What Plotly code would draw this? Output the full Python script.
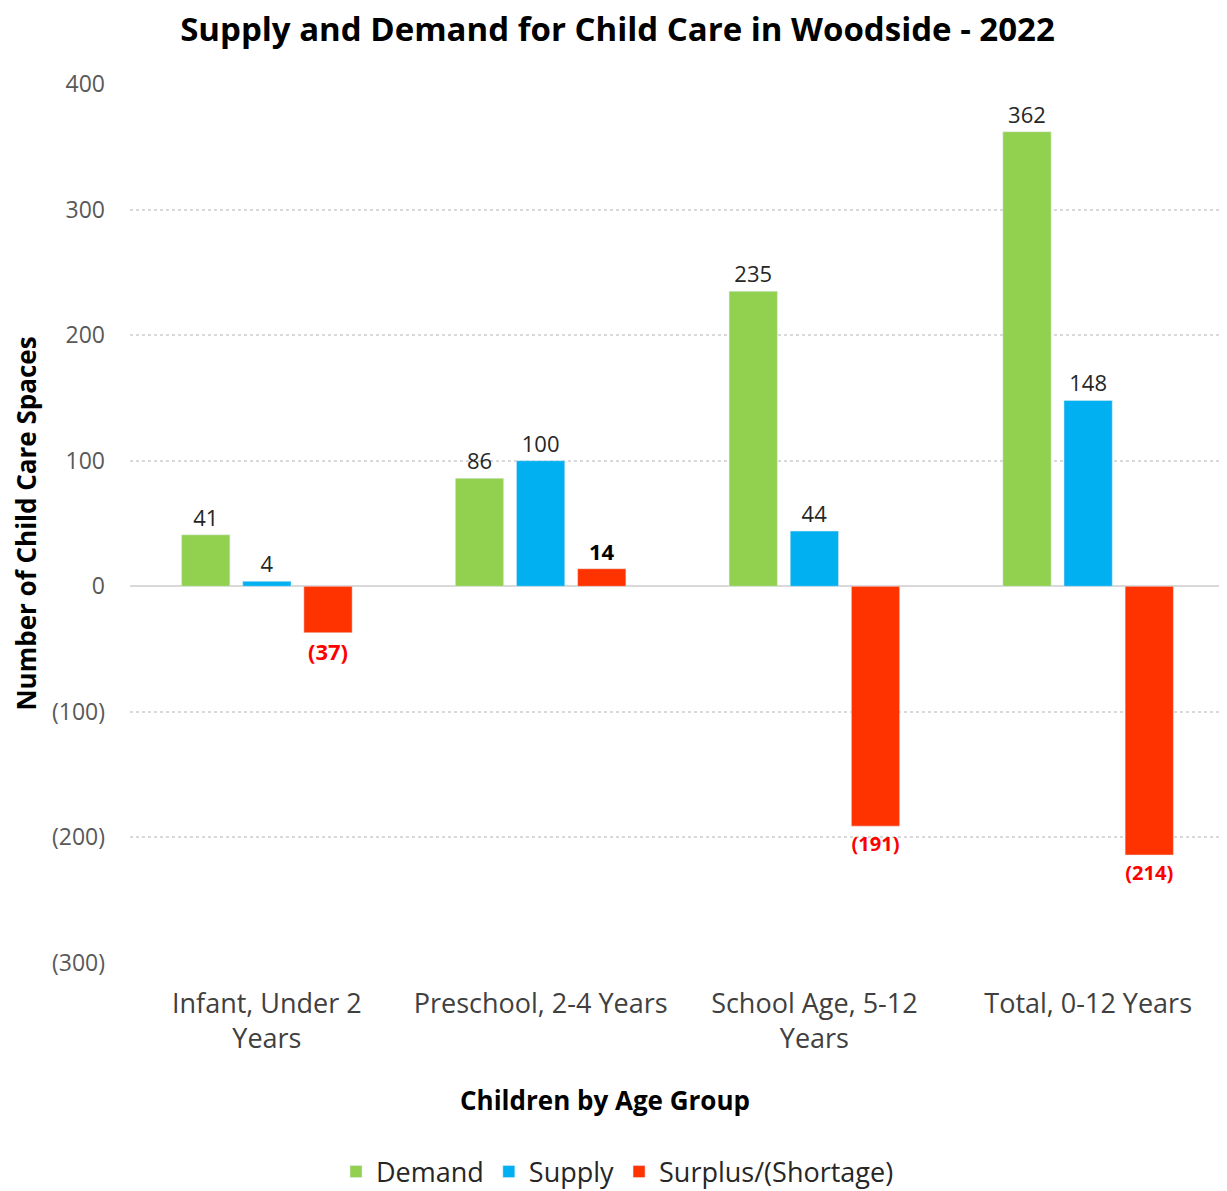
import plotly.graph_objects as go

categories = ["Infant, Under 2<br>Years", "Preschool, 2-4 Years", "School Age, 5-12<br>Years", "Total, 0-12 Years"]
demand = [41, 86, 235, 362]
supply = [4, 100, 44, 148]
surplus = [-37, 14, -191, -214]
tick_vals = [-300, -200, -100, 0, 100, 200, 300, 400]
tick_text = ["(300)", "(200)", "(100)", "0", "100", "200", "300", "400"]

FONT = "Open Sans"

def fmt(v):
    return f"({abs(v)})" if v < 0 else str(v)

W, H = 1219, 1183

fig = go.Figure()
fig.add_trace(go.Bar(name="Demand", x=categories, y=demand, marker_color="#92D050",
                     text=[fmt(v) for v in demand], textposition="outside",
                     textfont=dict(family=FONT, size=22, color="#262626"), cliponaxis=False))
fig.add_trace(go.Bar(name="Supply", x=categories, y=supply, marker_color="#00B0F0",
                     text=[fmt(v) for v in supply], textposition="outside",
                     textfont=dict(family=FONT, size=22, color="#262626"), cliponaxis=False))
fig.add_trace(go.Bar(name="Surplus/(Shortage)", x=categories, y=surplus, marker_color="#FF3300",
                     text=[f"<b>{fmt(v)}</b>" for v in surplus], textposition="outside",
                     textfont=dict(family=FONT, size=22,
                                   color=["#FF0000" if v < 0 else "#000000" for v in surplus]),
                     cliponaxis=False))

fig.update_layout(
    width=W, height=H,
    paper_bgcolor="white", plot_bgcolor="white",
    margin=dict(l=122, r=2, t=76, b=228),
    barmode="group", bargap=0.33, bargroupgap=0.21,
    title=dict(text="<b>Supply and Demand for Child Care in Woodside - 2022</b>",
               x=0.5, xref="container", xanchor="center", y=1 - 21 / H, yref="container", yanchor="middle",
               font=dict(family=FONT, size=33, color="#000000")),
    font=dict(family=FONT),
    xaxis=dict(tickfont=dict(family=FONT, size=27, color="#404040"),
               showline=False, ticks="", ticklabelstandoff=22),
    yaxis=dict(title=dict(text="<b>Number of Child Care Spaces</b>", font=dict(family=FONT, size=26, color="#000000"), standoff=24),
               range=[-300, 400], tickvals=tick_vals, ticktext=tick_text,
               tickfont=dict(family=FONT, size=23, color="#595959"),
               showgrid=True, gridcolor="#D9D9D9", gridwidth=2, griddash="dot",
               zeroline=True, zerolinecolor="#D9D9D9", zerolinewidth=2,
               showline=False, ticks="", ticklabelstandoff=24),
    legend=dict(orientation="h", x=0.5, xref="container", xanchor="center",
                y=1 - 1164 / H, yref="container", yanchor="middle",
                font=dict(family=FONT, size=27, color="#262626"), itemwidth=30, tracegroupgap=0),
    annotations=[dict(text="<b>Children by Age Group</b>", xref="paper", yref="paper",
                      x=(597 - 122) / (W - 124), y=-(1092 - 955) / (955 - 76),
                      xanchor="center", yanchor="middle", showarrow=False,
                      font=dict(family=FONT, size=26, color="#000000"))],
    showlegend=True,
)

fig.write_html("out.html")
